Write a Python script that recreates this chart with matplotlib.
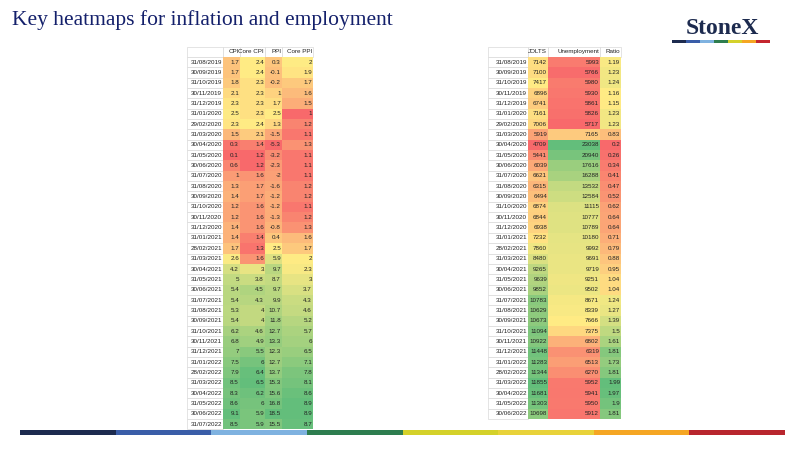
import matplotlib.pyplot as plt
import numpy as np
from matplotlib.patches import Rectangle
from matplotlib.colors import to_rgb

dates_infl = ['31/08/2019', '30/09/2019', '31/10/2019', '30/11/2019', '31/12/2019', '31/01/2020',
              '29/02/2020', '31/03/2020', '30/04/2020', '31/05/2020', '30/06/2020', '31/07/2020',
              '31/08/2020', '30/09/2020', '31/10/2020', '30/11/2020', '31/12/2020', '31/01/2021',
              '28/02/2021', '31/03/2021', '30/04/2021', '31/05/2021', '30/06/2021', '31/07/2021',
              '31/08/2021', '30/09/2021', '31/10/2021', '30/11/2021', '31/12/2021', '31/01/2022',
              '28/02/2022', '31/03/2022', '30/04/2022', '31/05/2022', '30/06/2022', '31/07/2022']
cpi = [1.7, 1.7, 1.8, 2.1, 2.3, 2.5, 2.3, 1.5, 0.3, 0.1, 0.6, 1, 1.3, 1.4, 1.2, 1.2, 1.4, 1.4,
       1.7, 2.6, 4.2, 5, 5.4, 5.4, 5.3, 5.4, 6.2, 6.8, 7, 7.5, 7.9, 8.5, 8.3, 8.6, 9.1, 8.5]
core_cpi = [2.4, 2.4, 2.3, 2.3, 2.3, 2.3, 2.4, 2.1, 1.4, 1.2, 1.2, 1.6, 1.7, 1.7, 1.6, 1.6, 1.6, 1.4,
            1.3, 1.6, 3, 3.8, 4.5, 4.3, 4, 4, 4.6, 4.9, 5.5, 6, 6.4, 6.5, 6.2, 6, 5.9, 5.9]
ppi = [0.3, -0.1, -0.2, 1, 1.7, 2.5, 1.3, -1.5, -5.3, -3.2, -2.3, -2, -1.6, -1.2, -1.2, -1.3, -0.8, 0.4,
       2.5, 5.9, 9.7, 8.7, 9.7, 9.9, 10.7, 11.8, 12.7, 13.3, 12.3, 12.7, 13.7, 15.3, 15.6, 16.8, 18.5, 15.5]
core_ppi = [2, 1.9, 1.7, 1.6, 1.5, 1, 1.2, 1.1, 1.3, 1.1, 1.1, 1.1, 1.2, 1.2, 1.1, 1.2, 1.3, 1.6,
            1.7, 2, 2.3, 3, 3.7, 4.3, 4.6, 5.2, 5.7, 6, 6.5, 7.1, 7.8, 8.1, 8.6, 8.9, 8.9, 8.7]

dates_emp = dates_infl[:35]
jolts = [7142, 7100, 7417, 6896, 6741, 7161, 7006, 5919, 4709, 5441, 6039, 6621, 6315, 6494, 6874,
         6844, 6938, 7232, 7860, 8480, 9265, 9639, 9852, 10783, 10629, 10673, 11094, 10922, 11448,
         11283, 11344, 11855, 11681, 11303, 10698]
unemployment = [5993, 5766, 5980, 5930, 5861, 5826, 5717, 7165, 23038, 20940, 17616, 16288, 13532,
                12584, 11115, 10777, 10789, 10180, 9992, 9691, 9719, 9251, 9502, 8671, 8339, 7666,
                7375, 6802, 6319, 6513, 6270, 5952, 5941, 5950, 5912]
ratio = [1.19, 1.23, 1.24, 1.16, 1.15, 1.23, 1.23, 0.83, 0.2, 0.26, 0.34, 0.41, 0.47, 0.52, 0.62,
         0.64, 0.64, 0.71, 0.79, 0.88, 0.95, 1.04, 1.04, 1.24, 1.27, 1.39, 1.5, 1.61, 1.81, 1.73,
         1.81, 1.99, 1.97, 1.9, 1.81]

RED, YEL, GRN = [np.array(to_rgb(c)) for c in ('#F8696B', '#FFEB84', '#63BE7B')]
FS = 4.5


def scale_colour(vals):
    v = np.array(vals, float)
    lo, mid, hi = v.min(), np.percentile(v, 50), v.max()
    out = []
    for x in v:
        if x <= mid:
            t = (x - lo) / (mid - lo) if mid > lo else 0
            out.append(RED + (YEL - RED) * t)
        else:
            t = (x - mid) / (hi - mid)
            out.append(YEL + (GRN - YEL) * t)
    return out


def draw_table(ax, x0, y0, rowh, widths, headers, dates, cols):
    xs = np.concatenate([[x0], x0 + np.cumsum(widths)])
    n = len(dates)
    for j, h in enumerate([''] + headers):
        ax.add_patch(Rectangle((xs[j], y0), widths[j], rowh, fc='white', ec='#d9d9d9', lw=0.5))
        if h:
            ax.text(xs[j + 1] - 1, y0 + rowh / 2, h, ha='right', va='center', fontsize=FS,
                    family='Liberation Sans', color='#222222')
    for i in range(n):
        y = y0 + rowh * (i + 1)
        ax.add_patch(Rectangle((xs[0], y), widths[0], rowh, fc='white', ec='#d9d9d9', lw=0.5))
        ax.text(xs[1] - 1, y + rowh / 2, dates[i], ha='right', va='center', fontsize=FS,
                family='Liberation Sans', color='#222222')
    for j, col in enumerate(cols):
        colours = scale_colour(col)
        for i, v in enumerate(col):
            y = y0 + rowh * (i + 1)
            ax.add_patch(Rectangle((xs[j + 1], y), widths[j + 1], rowh, fc=colours[i], ec='none'))
            ax.text(xs[j + 2] - 1, y + rowh / 2, '%g' % v, ha='right', va='center', fontsize=FS,
                    family='Liberation Sans', color='#222222')


fig = plt.figure(figsize=(8, 4.5), dpi=100)
ax = fig.add_axes([0, 0, 1, 1])
ax.set_xlim(0, 800)
ax.set_ylim(450, 0)
ax.axis('off')

ax.text(12, 20, 'Key heatmaps for inflation and employment', fontsize=15.5, family='Liberation Serif',
        color='#14206b', va='center', ha='left')

# logo
ax.text(722, 28, 'StoneX', fontsize=17, family='Liberation Serif', fontweight='bold',
        color='#1d2b4f', ha='center', va='center')
logo_cols = ['#1d2b4f', '#3a5da8', '#7fb2e0', '#2e7d4f', '#d4d12a', '#f5a623', '#c4262e']
for k, c in enumerate(logo_cols):
    ax.add_patch(Rectangle((672 + k * 14, 40), 14, 2.5, fc=c, ec='none'))

draw_table(ax, 187, 46.5, 10.35, [36, 17, 25, 17, 31], ['CPI', 'Core CPI', 'PPI', 'Core PPI'],
           dates_infl, [cpi, core_cpi, ppi, core_ppi])
draw_table(ax, 488, 46.5, 10.35, [40, 20, 52, 21], ['JOLTS', 'Unemployment', 'Ratio'],
           dates_emp, [jolts, unemployment, ratio])

# bottom colour bar
bar_cols = ['#1d2b4f', '#3a5da8', '#7fb2e0', '#2e7d4f', '#d4d12a', '#e8d23a', '#f5a623', '#b8262e']
seg = (785 - 20) / len(bar_cols)
for k, c in enumerate(bar_cols):
    ax.add_patch(Rectangle((20 + k * seg, 430), seg, 5, fc=c, ec='none'))

fig.savefig('out.png', dpi=100)
